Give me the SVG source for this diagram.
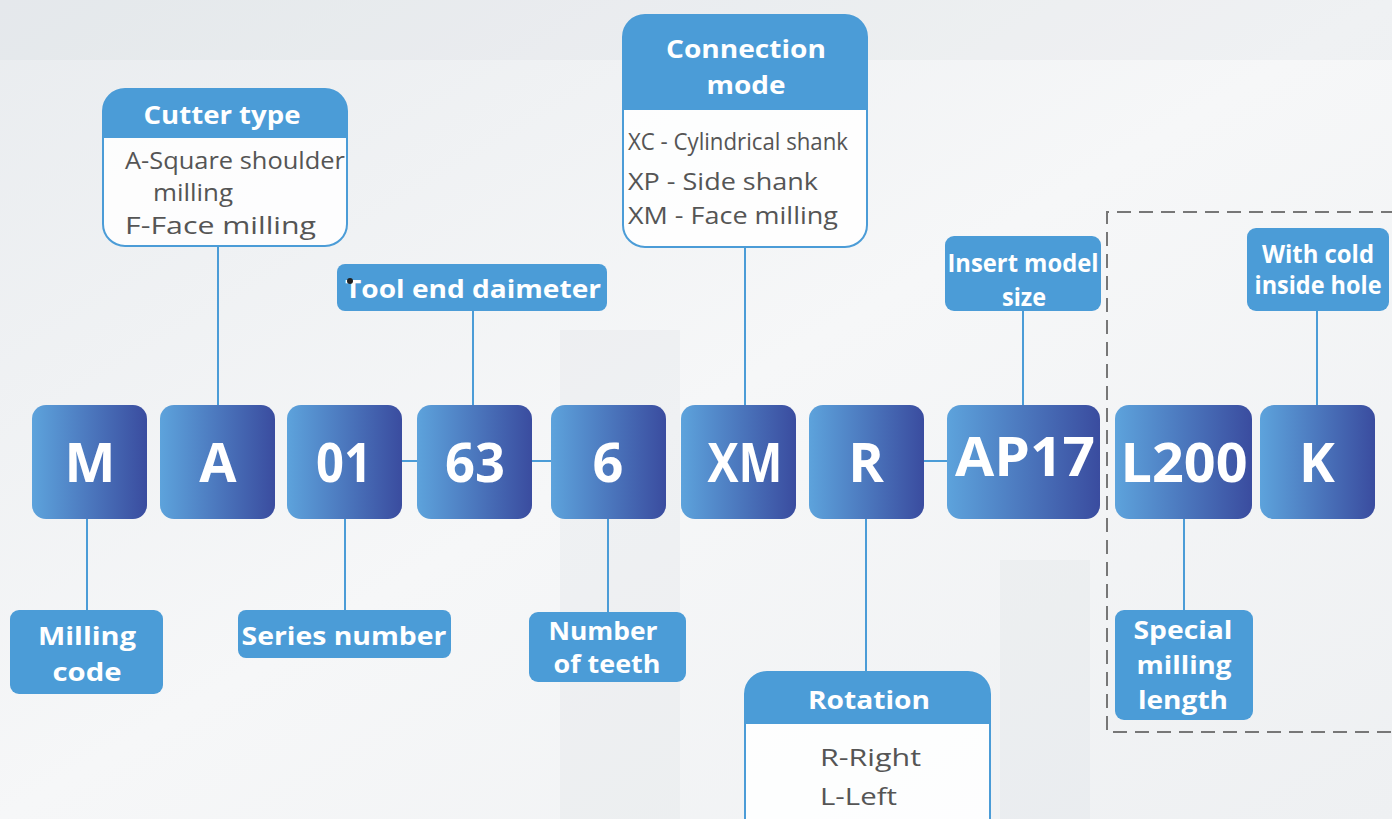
<svg xmlns="http://www.w3.org/2000/svg" width="1392" height="819" viewBox="0 0 1392 819">
<defs>
<linearGradient id="bg" x1="0" y1="0" x2="1" y2="1">
<stop offset="0" stop-color="#e9ecef"/>
<stop offset="0.5" stop-color="#f6f7f8"/>
<stop offset="1" stop-color="#eef0f2"/>
</linearGradient>
<linearGradient id="code" x1="0" y1="0" x2="1" y2="0">
<stop offset="0" stop-color="#5da3dc"/>
<stop offset="1" stop-color="#3a4c9f"/>
</linearGradient>
<style>
.code{fill:url(#code);}
.ct{font-family:"Open Sans","Liberation Sans",sans-serif;font-weight:700;font-size:54px;fill:#fff;text-anchor:middle;}
.lb{fill:#4b9cd7;}
.lt{font-family:"Open Sans","Liberation Sans",sans-serif;font-weight:700;font-size:25px;fill:#fff;text-anchor:middle;}
.card{fill:#fff;fill-opacity:0.85;stroke:#4b9cd7;stroke-width:2;}
.bt{font-family:"Open Sans","Noto Sans","Liberation Sans",sans-serif;font-size:24px;fill:#555;}
.ln{stroke:#4b9cd7;stroke-width:2;fill:none;}
</style>
</defs>
<rect width="1392" height="819" fill="url(#bg)"/>
<g opacity="0.18" fill="#d5dade">
<rect x="0" y="0" width="1392" height="60"/>
<rect x="560" y="330" width="120" height="489"/>
<rect x="1000" y="560" width="90" height="259"/>
</g>

<g id="connectors" class="ln">
<line x1="218" y1="246" x2="218" y2="405"/>
<line x1="473" y1="311" x2="473" y2="405"/>
<line x1="745" y1="247" x2="745" y2="405"/>
<line x1="1023" y1="311" x2="1023" y2="405"/>
<line x1="1317" y1="311" x2="1317" y2="405"/>
<line x1="402" y1="461" x2="417" y2="461"/>
<line x1="532" y1="461" x2="551" y2="461"/>
<line x1="924" y1="461" x2="947" y2="461"/>
<line x1="87" y1="519" x2="87" y2="610"/>
<line x1="345" y1="519" x2="345" y2="610"/>
<line x1="608" y1="519" x2="608" y2="612"/>
<line x1="866" y1="519" x2="866" y2="672"/>
<line x1="1184" y1="519" x2="1184" y2="610"/>
</g>

<g id="dashed-group">
<path d="M1395,212 H1107 V732 H1395" fill="none" stroke="#777" stroke-width="2" stroke-dasharray="14 8"/>
</g>

<g id="code-M"><rect class="code" x="32" y="405" width="115" height="114" rx="14"/><text class="ct" x="90" y="482">M</text></g>
<g id="code-A"><rect class="code" x="160" y="405" width="115" height="114" rx="14"/><text class="ct" x="218" y="482">A</text></g>
<g id="code-01"><rect class="code" x="287" y="405" width="115" height="114" rx="14"/><text class="ct" x="344" y="482" textLength="56" lengthAdjust="spacingAndGlyphs">01</text></g>
<g id="code-63"><rect class="code" x="417" y="405" width="115" height="114" rx="14"/><text class="ct" x="475" y="482" textLength="60" lengthAdjust="spacingAndGlyphs">63</text></g>
<g id="code-6"><rect class="code" x="551" y="405" width="115" height="114" rx="14"/><text class="ct" x="608" y="482">6</text></g>
<g id="code-XM"><rect class="code" x="681" y="405" width="115" height="114" rx="14"/><text class="ct" x="745" y="482" textLength="75" lengthAdjust="spacingAndGlyphs">XM</text></g>
<g id="code-R"><rect class="code" x="809" y="405" width="115" height="114" rx="14"/><text class="ct" x="866" y="482">R</text></g>
<g id="code-AP17"><rect class="code" x="947" y="405" width="153" height="114" rx="14"/><text class="ct" x="1025" y="476" textLength="140" lengthAdjust="spacingAndGlyphs">AP17</text></g>
<g id="code-L200"><rect class="code" x="1115" y="405" width="137" height="114" rx="14"/><text class="ct" x="1184" y="482" textLength="127" lengthAdjust="spacingAndGlyphs">L200</text></g>
<g id="code-K"><rect class="code" x="1260" y="405" width="115" height="114" rx="14"/><text class="ct" x="1317" y="482">K</text></g>

<g id="cutter-type">
<rect class="card" x="103" y="89" width="244" height="157" rx="22"/>
<path class="lb" d="M103,138 V111 A22,22 0 0 1 125,89 H325 A22,22 0 0 1 347,111 V138 Z"/>
<text class="lt" x="222" y="124" textLength="157" lengthAdjust="spacingAndGlyphs">Cutter type</text>
<text class="bt" x="125" y="169" textLength="220" lengthAdjust="spacingAndGlyphs">A-Square shoulder</text>
<text class="bt" x="153" y="201" textLength="80" lengthAdjust="spacingAndGlyphs">milling</text>
<text class="bt" x="125" y="234" textLength="191" lengthAdjust="spacingAndGlyphs">F-Face milling</text>
</g>

<g id="connection-mode">
<rect class="card" x="623" y="15" width="244" height="232" rx="22"/>
<path class="lb" d="M623,110 V37 A22,22 0 0 1 645,15 H845 A22,22 0 0 1 867,37 V110 Z"/>
<text class="lt" x="746" y="58" textLength="160" lengthAdjust="spacingAndGlyphs">Connection</text>
<text class="lt" x="746" y="94" textLength="79" lengthAdjust="spacingAndGlyphs">mode</text>
<text class="bt" x="628" y="150" textLength="220" lengthAdjust="spacingAndGlyphs">XC - Cylindrical shank</text>
<text class="bt" x="628" y="190" textLength="190" lengthAdjust="spacingAndGlyphs">XP - Side shank</text>
<text class="bt" x="628" y="224" textLength="210" lengthAdjust="spacingAndGlyphs">XM - Face milling</text>
</g>

<g id="tool-end-diameter">
<rect class="lb" x="337" y="264" width="270" height="47" rx="8"/>
<text class="lt" x="473" y="298" textLength="256" lengthAdjust="spacingAndGlyphs">Tool end daimeter</text>
<circle cx="350" cy="281" r="3" fill="#222"/>
</g>

<g id="insert-model-size">
<rect class="lb" x="945" y="236" width="156" height="75" rx="9"/>
<text class="lt" x="1023" y="272" font-size="24" textLength="151" lengthAdjust="spacingAndGlyphs">Insert model</text>
<text class="lt" x="1024" y="306" font-size="24" textLength="44" lengthAdjust="spacingAndGlyphs">size</text>
</g>

<g id="cold-hole">
<rect class="lb" x="1247" y="228" width="142" height="83" rx="9"/>
<text class="lt" x="1318" y="263" font-size="21" textLength="112" lengthAdjust="spacingAndGlyphs">With cold</text>
<text class="lt" x="1318" y="294" font-size="21" textLength="127" lengthAdjust="spacingAndGlyphs">inside hole</text>
</g>

<g id="milling-code">
<rect class="lb" x="10" y="610" width="153" height="84" rx="9"/>
<text class="lt" x="87" y="645" textLength="98" lengthAdjust="spacingAndGlyphs">Milling</text>
<text class="lt" x="87" y="681" textLength="69" lengthAdjust="spacingAndGlyphs">code</text>
</g>

<g id="series-number">
<rect class="lb" x="238" y="610" width="213" height="48" rx="8"/>
<text class="lt" x="344" y="645" textLength="205" lengthAdjust="spacingAndGlyphs">Series number</text>
</g>

<g id="number-of-teeth">
<rect class="lb" x="529" y="612" width="157" height="70" rx="9"/>
<text class="lt" x="603" y="640" textLength="109" lengthAdjust="spacingAndGlyphs">Number</text>
<text class="lt" x="607" y="673" textLength="107" lengthAdjust="spacingAndGlyphs">of teeth</text>
</g>

<g id="rotation">
<rect class="card" x="745" y="672" width="245" height="170" rx="22"/>
<path class="lb" d="M745,724 V694 A22,22 0 0 1 767,672 H968 A22,22 0 0 1 990,694 V724 Z"/>
<text class="lt" x="869" y="709" textLength="122" lengthAdjust="spacingAndGlyphs">Rotation</text>
<text class="bt" x="820" y="766" font-size="25" textLength="101" lengthAdjust="spacingAndGlyphs">R-Right</text>
<text class="bt" x="820" y="805" font-size="25" textLength="77" lengthAdjust="spacingAndGlyphs">L-Left</text>
</g>

<g id="special-milling-length">
<rect class="lb" x="1115" y="610" width="138" height="110" rx="9"/>
<text class="lt" x="1183" y="639" textLength="99" lengthAdjust="spacingAndGlyphs">Special</text>
<text class="lt" x="1184" y="674" textLength="95" lengthAdjust="spacingAndGlyphs">milling</text>
<text class="lt" x="1183" y="709" textLength="90" lengthAdjust="spacingAndGlyphs">length</text>
</g>
</svg>
